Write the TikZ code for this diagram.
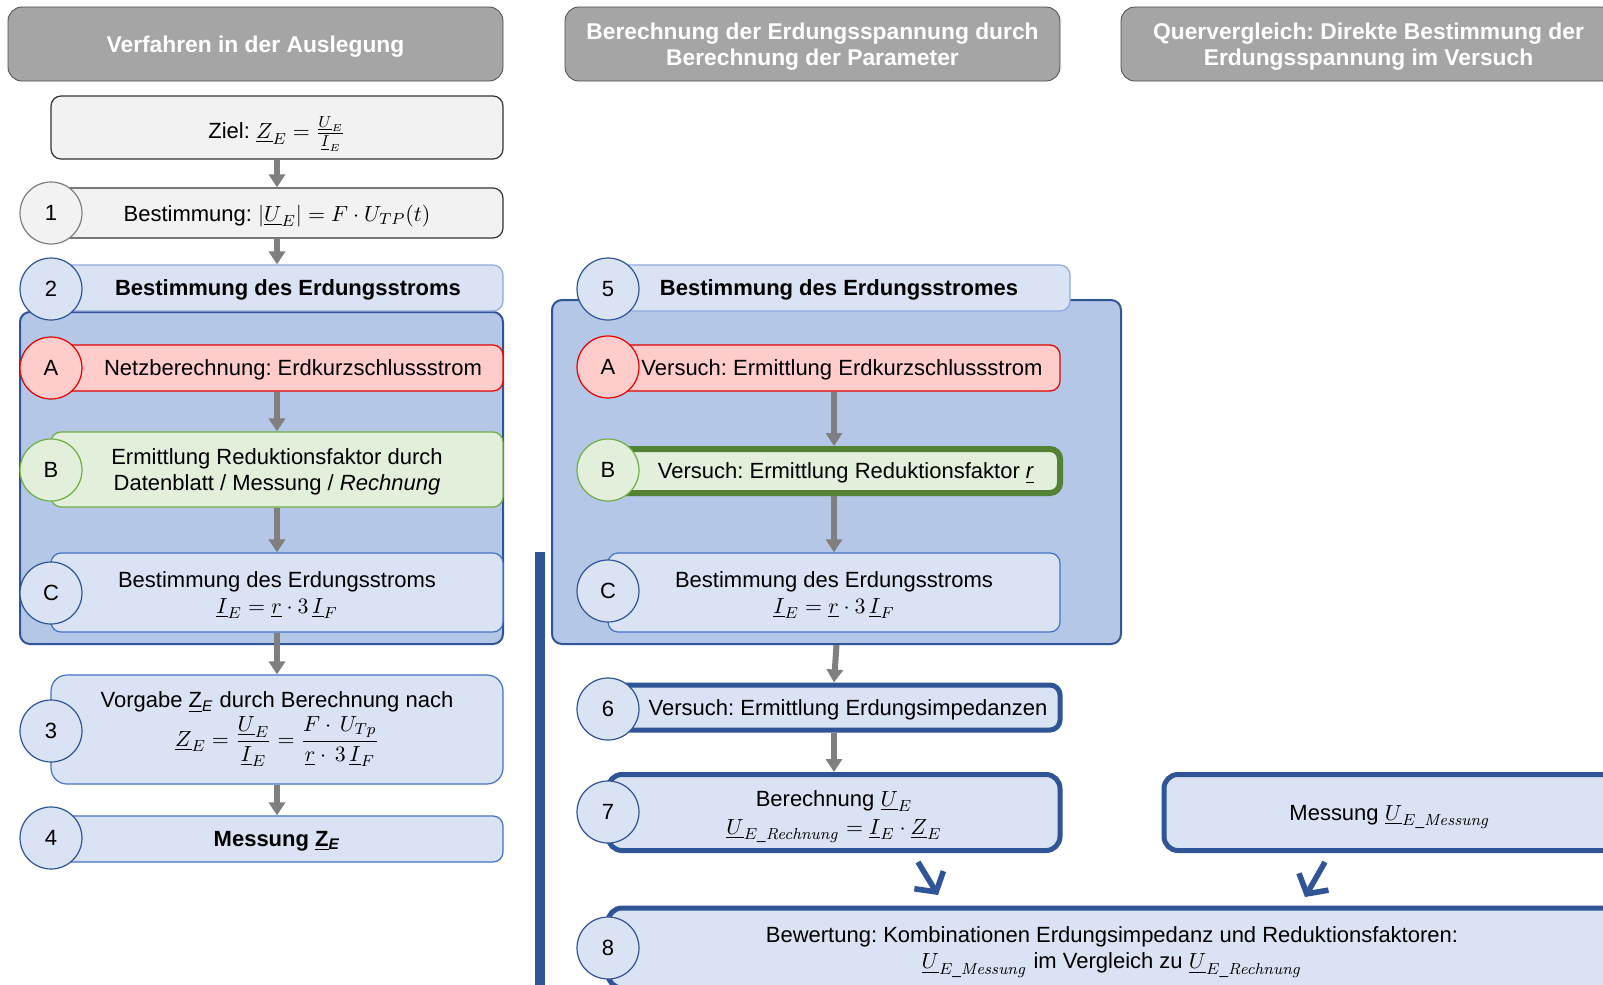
\documentclass[tikz,border=0pt]{standalone}
\usepackage{amsmath}
\usepackage[no-math]{fontspec}
\setmainfont{Liberation Sans}
\usetikzlibrary{arrows.meta}
\definecolor{hdgray}{HTML}{A5A5A5}
\definecolor{lgray}{HTML}{F2F2F2}
\definecolor{lblue}{HTML}{DAE3F3}
\definecolor{mblue}{HTML}{B4C7E7}
\definecolor{dblue}{HTML}{2F5597}
\definecolor{eblue}{HTML}{4472C4}
\definecolor{lred}{HTML}{FFCCCC}
\definecolor{dred}{HTML}{E00000}
\definecolor{lgreen}{HTML}{E2EFDA}
\definecolor{mgreen}{HTML}{70AD47}
\definecolor{dgreen}{HTML}{548235}
\definecolor{agray}{HTML}{7F7F7F}
\frenchspacing

\begin{document}
\begin{tikzpicture}[x=0.5pt, y=-0.5pt, font=\fontsize{11}{13}\selectfont,
  hdbox/.style={draw=black!70, fill=hdgray, rounded corners=7pt, minimum width=247.5pt, minimum height=37pt, align=center, text depth=-1.7pt, text=white, font=\fontsize{11.4}{12.8}\selectfont\bfseries},
  stepbox/.style={rounded corners=5pt, minimum width=226pt, align=center, inner sep=1pt, text depth=-1.7pt, line width=0.6pt},
  grp/.style={draw=dblue, fill=mblue, line width=1pt, rounded corners=5pt, inner sep=0pt},
  numcirc/.style={circle, minimum size=31pt, inner sep=0pt, line width=0.6pt},
  flow/.style={agray, line width=3pt, -{Triangle[length=6.5pt, width=8pt]}},
  chev/.style={dblue, line width=2.8pt, -{Straight Barb[length=7pt, width=17pt]}}]
\path[use as bounding box, fill=white] (0,0) rectangle (1603,985); \clip (0,0) rectangle (1603,985);
% column headers
\node[hdbox] (hdA) at (255.5,44) {Verfahren in der Auslegung};
\node[hdbox] (hdB) at (812.5,44) {Berechnung der Erdungsspannung durch\\Berechnung der Parameter};
\node[hdbox] (hdC) at (1368.5,44) {Quervergleich: Direkte Bestimmung der\\Erdungsspannung im Versuch};
% groups
\node[grp, minimum width=241.5pt, minimum height=166pt] (contL) at (261.5,478) {};
\node[grp, minimum width=284.5pt, minimum height=172pt] (contM) at (836.5,472) {};
\draw[dblue, line width=5pt] (540,552) -- (540,990);
% left column
\node[stepbox, draw=black!80, fill=lgray, minimum height=31.5pt] (ziel) at (277,127.5) {Ziel: $\underline{Z}_E = \frac{\underline{U}_E}{\underline{I}_E}$};
\node[stepbox, draw=black!80, fill=lgray, minimum height=25pt] (s1) at (277,213) {Bestimmung: $\left|\underline{U}_E\right| = F\cdot U_{TP}(t)$};
\node[stepbox, draw=eblue!60, fill=lblue, minimum height=23pt] (s2) at (277,288) {\hspace*{11pt}\bfseries Bestimmung des Erdungsstroms};
\node[stepbox, draw=dred, fill=lred, minimum height=23pt] (sA) at (277,368) {\hspace*{16pt}Netzberechnung: Erdkurzschlussstrom};
\node[stepbox, draw=mgreen, fill=lgreen, minimum height=37.5pt] (sB) at (277,469.5) {Ermittlung Reduktionsfaktor durch\\Datenblatt / Messung / \textit{Rechnung}};
\node[stepbox, draw=eblue, fill=lblue, minimum height=39.5pt] (sC) at (277,592.5) {Bestimmung des Erdungsstroms\\$\underline{I}_E = \underline{r}\cdot 3\,\underline{I}_F$};
\node[stepbox, draw=eblue, fill=lblue, minimum height=54.5pt, rounded corners=8pt, text depth={}] (s3) at (277,729.5) {Vorgabe \underline{Z}\textsubscript{\textit{E}} durch Berechnung nach\\[1pt]$\underline{Z}_E = \dfrac{\underline{U}_E}{\underline{I}_E} = \dfrac{F\cdot\,U_{Tp}}{\underline{r}\cdot\,3\,\underline{I}_F}$};
\node[stepbox, draw=eblue, fill=lblue, minimum height=23pt] (s4) at (277,839) {\bfseries Messung \underline{Z}\textsubscript{\textit{E}}};
\node[numcirc, draw=agray, fill=lgray] (c1) at (51,213) {1};
\node[numcirc, draw=dblue, fill=lblue] (c2) at (51,289) {2};
\node[numcirc, draw=dred, fill=lred] (cA) at (51,368) {A};
\node[numcirc, draw=mgreen, fill=lgreen] (cB) at (51,470) {B};
\node[numcirc, draw=dblue, fill=lblue] (cC) at (51,593) {C};
\node[numcirc, draw=dblue, fill=lblue] (c3) at (51,731) {3};
\node[numcirc, draw=dblue, fill=lblue] (c4) at (51,838) {4};
% middle column
\node[stepbox, draw=eblue!60, fill=lblue, minimum width=231pt, minimum height=23pt] (s5) at (839,288) {\bfseries Bestimmung des Erdungsstromes};
\node[stepbox, draw=dred, fill=lred, minimum height=23pt] (mA) at (834,368) {\hspace*{8pt}Versuch: Ermittlung Erdkurzschlussstrom};
\node[stepbox, draw=dgreen, fill=lgreen, line width=3pt, minimum height=22pt] (mB) at (834,471) {\hspace*{12pt}Versuch: Ermittlung Reduktionsfaktor \underline{\textit{r}}};
\node[stepbox, draw=eblue, fill=lblue, minimum height=39.5pt] (mC) at (834,592.5) {Bestimmung des Erdungsstroms\\$\underline{I}_E = \underline{r}\cdot 3\,\underline{I}_F$};
\node[stepbox, draw=dblue, fill=lblue, line width=2.5pt, minimum height=22.5pt] (s6) at (834,707.5) {\hspace*{14pt}Versuch: Ermittlung Erdungsimpedanzen};
\node[stepbox, draw=dblue, fill=lblue, line width=2.5pt, minimum height=38pt, rounded corners=7pt] (s7) at (834,812.5) {Berechnung $\underline{U}_E$\\[1pt]$\underline{U}_{E\_\mathit{Rechnung}} = \underline{I}_E\cdot\underline{Z}_E$};
\node[stepbox, draw=dblue, fill=lblue, line width=2.5pt, minimum height=38pt, rounded corners=7pt] (msg) at (1390,812.5) {Messung $\underline{U}_{E\_\mathit{Messung}}$};
\node[stepbox, draw=dblue, fill=lblue, line width=2.5pt, minimum width=504pt, minimum height=40pt, rounded corners=7pt] (s8) at (1112,948) {Bewertung: Kombinationen Erdungsimpedanz und Reduktionsfaktoren:\\$\underline{U}_{E\_\mathit{Messung}}$ im Vergleich zu $\underline{U}_{E\_\mathit{Rechnung}}$};
\node[numcirc, draw=dblue, fill=lblue] (c5) at (608,289) {5};
\node[numcirc, draw=dred, fill=lred] (cmA) at (608,367) {A};
\node[numcirc, draw=mgreen, fill=lgreen] (cmB) at (608,470) {B};
\node[numcirc, draw=dblue, fill=lblue] (cmC) at (608,591) {C};
\node[numcirc, draw=dblue, fill=lblue] (c6) at (608,709) {6};
\node[numcirc, draw=dblue, fill=lblue] (c7) at (608,812) {7};
\node[numcirc, draw=dblue, fill=lblue] (c8) at (608,948) {8};
% arrows
\draw[flow] (ziel) -- (s1); \draw[flow] (s1) -- (s2);
\draw[flow] (sA) -- (sB); \draw[flow] (sB) -- (sC);
\draw[flow] (sC.south) -- (s3.north); \draw[flow] (s3) -- (s4);
\draw[flow] (mA) -- (mB); \draw[flow] (mB) -- (mC);
\draw[flow] (contM.south) -- (s6.north); \draw[flow] (s6) -- (s7);
\coordinate (ch1s) at (918,862); \coordinate (ch1e) at (938,895);
\coordinate (ch2s) at (1325,862); \coordinate (ch2e) at (1305,897);
\draw[chev] (ch1s) -- (ch1e); \draw[chev] (ch2s) -- (ch2e);
\end{tikzpicture}
\end{document}
